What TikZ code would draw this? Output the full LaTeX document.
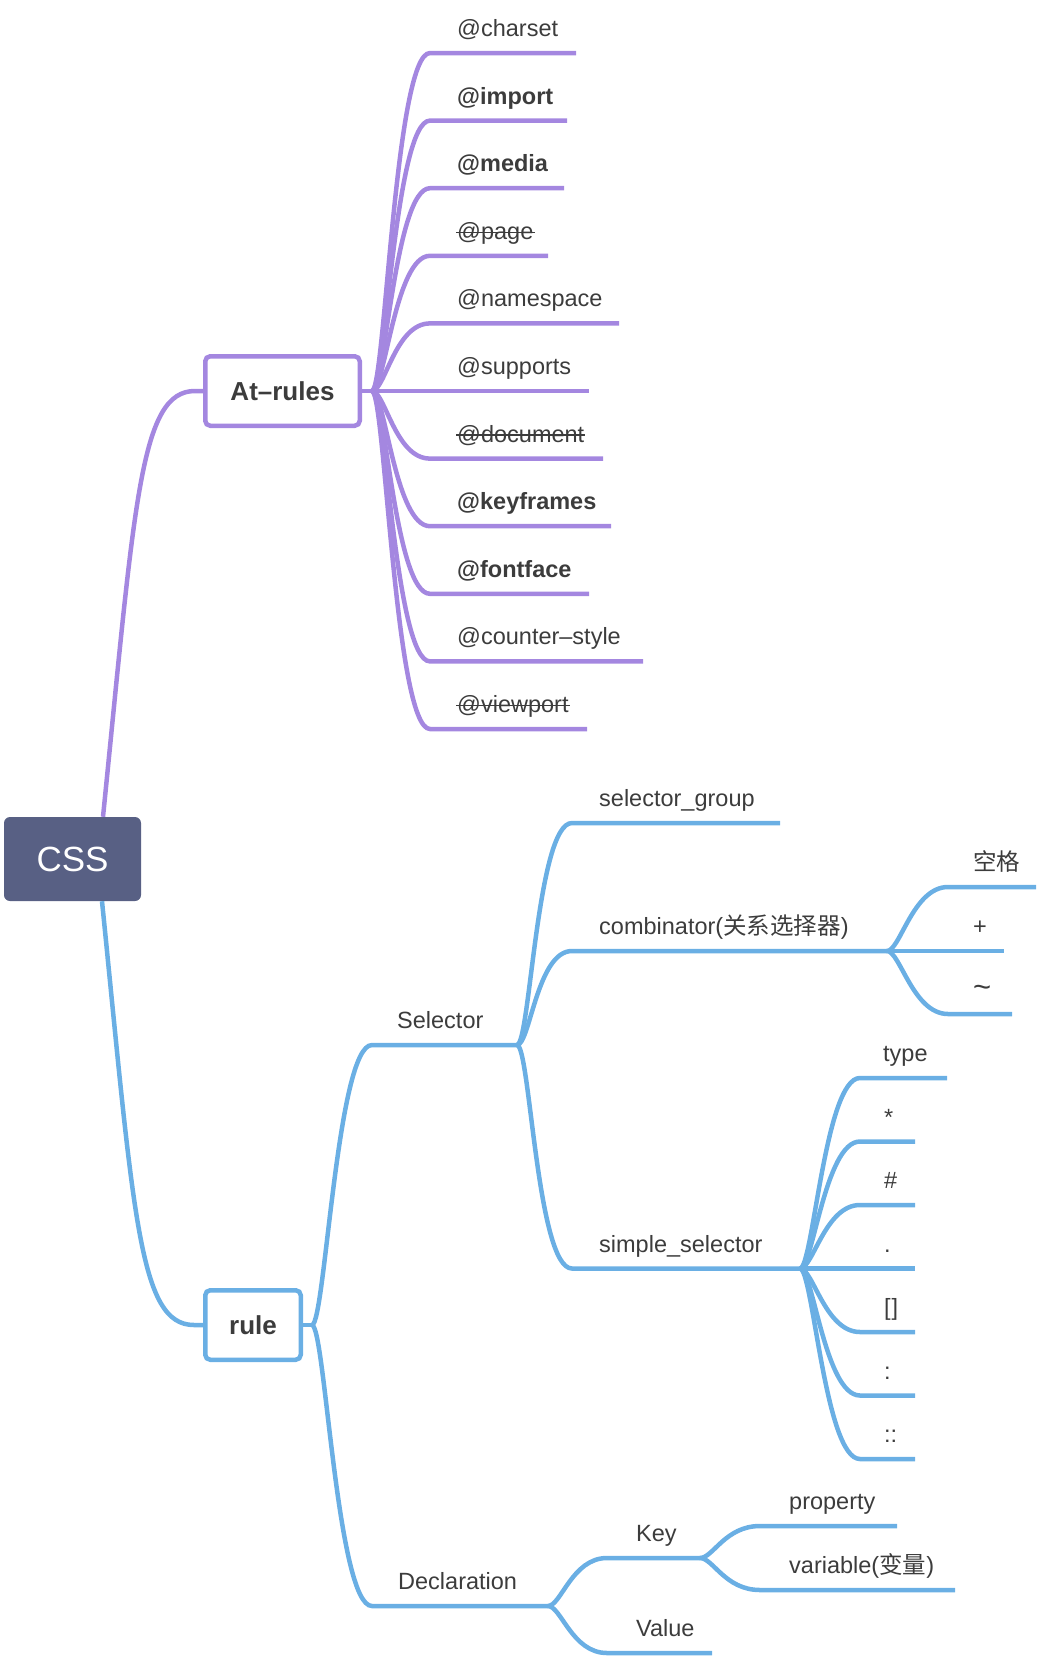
\documentclass[tikz,border=0pt]{standalone}
\usepackage{fontspec}
\setmainfont{Liberation Sans}
\newfontfamily\cjk{Noto Sans CJK SC}
\usetikzlibrary{calc}
\definecolor{pur}{RGB}{164,135,224}
\definecolor{blu}{RGB}{106,175,228}
\definecolor{cssbg}{RGB}{88,96,132}
\definecolor{txt}{RGB}{60,60,60}
\tikzset{
  leaf/.style={anchor=base west, inner sep=0pt, text=txt, font=\fontsize{23.5}{28}\selectfont},
  boldleaf/.style={font=\fontsize{23.5}{28}\selectfont\bfseries},
  pbranch/.style={draw=pur, line width=4.5pt},
  bbranch/.style={draw=blu, line width=4.5pt},
  topbox/.style={rectangle, rounded corners=5pt, fill=white, line width=4.5pt, text=txt, font=\fontsize{26}{30}\selectfont\bfseries, inner sep=0pt},
  cssbox/.style={rectangle, rounded corners=6pt, fill=cssbg, text=white, font=\fontsize{35}{40}\selectfont, minimum width=137pt, minimum height=84pt, inner sep=0pt},
  strikeline/.style={draw=txt, line width=1.6pt},
}
\def\cOne{13}
\def\cTwo{35}
% #1 branch style, #2 parent coordinate, #3 name, #4 x start, #5 y, #6 x end, #7 text x, #8 node options, #9 text
\newcommand\mmkid[9]{%
  \coordinate (#3-s) at (#4,#5);
  \coordinate (#3-e) at (#6,#5);
  \node[leaf,#8] (#3) at (#7,#5-16.5) {#9};
  \draw[#1] (#2) .. controls ($(#2)+(\cOne,0)$) and ($(#3-s)+(-\cTwo,0)$) .. (#3-s) -- (#3-e);
}
\newcommand\mmstrike[1]{%
  \draw[strikeline] ([xshift=-1pt,yshift=7pt]#1.base west) -- ([xshift=1pt,yshift=7pt]#1.base east);
}
\begin{document}
\begin{tikzpicture}[x=1pt,y=-1pt]
\useasboundingbox (0,0) rectangle (1040,1660);

% main nodes
\node[cssbox] (css) at (72.5,859) {CSS};
\node[topbox, draw=pur, minimum width=154.5pt, minimum height=69.5pt] (atrules) at (282.5,391) {At–rules};
\node[topbox, draw=blu, minimum width=95.5pt, minimum height=69.5pt] (rule) at (253,1325) {rule};

% main connectors
\draw[pbranch] ([xshift=30.5pt]css.north) .. controls (135,500) and (140,391) .. (195,391) -- (atrules.west);
\draw[bbranch] ([xshift=29.5pt]css.south) .. controls (134,1218) and (139,1325) .. (194,1325) -- (rule.west);

% stubs
\coordinate (atp) at (372,391);
\draw[pbranch] (atrules.east) -- (atp);
\coordinate (rlp) at (312,1325);
\draw[bbranch] (rule.east) -- (rlp);

% At-rules children
\mmkid{pbranch}{atp}{charset}{430}{53}{576}{457}{}{@charset}
\mmkid{pbranch}{atp}{import}{430}{120.6}{567}{457}{boldleaf}{@import}
\mmkid{pbranch}{atp}{media}{430}{188.2}{564}{457}{boldleaf}{@media}
\mmkid{pbranch}{atp}{page}{430}{255.8}{548}{457}{}{@page}
\mmstrike{page}
\mmkid{pbranch}{atp}{namespace}{430}{323.4}{619}{457}{}{@namespace}
\mmkid{pbranch}{atp}{supports}{430}{391}{589}{457}{}{@supports}
\mmkid{pbranch}{atp}{document}{430}{458.6}{603}{457}{}{@document}
\mmstrike{document}
\mmkid{pbranch}{atp}{keyframes}{430}{526.2}{611}{457}{boldleaf}{@keyframes}
\mmkid{pbranch}{atp}{fontface}{430}{593.8}{589}{457}{boldleaf}{@fontface}
\mmkid{pbranch}{atp}{counter}{430}{661.4}{643}{457}{}{@counter–style}
\mmkid{pbranch}{atp}{viewport}{430}{729}{587}{457}{}{@viewport}
\mmstrike{viewport}

% rule children
\mmkid{bbranch}{rlp}{sel}{372}{1045}{517}{397}{}{Selector}
\mmkid{bbranch}{rlp}{decl}{372}{1606}{548}{398}{}{Declaration}

% Selector children
\mmkid{bbranch}{sel-e}{group}{572}{823}{780}{599}{}{selector\_group}
\mmkid{bbranch}{sel-e}{comb}{572}{951}{887}{599}{}{combinator({\cjk 关系选择器})}
\mmkid{bbranch}{sel-e}{simp}{572}{1268.5}{800}{599}{}{simple\_selector}

% combinator children
\mmkid{bbranch}{comb-e}{space}{948}{887}{1036}{973}{}{{\cjk 空格}}
\mmkid{bbranch}{comb-e}{plus}{948}{951}{1004}{973}{}{+}
\mmkid{bbranch}{comb-e}{tilde}{948}{1014}{1012}{973}{}{{\fontsize{31}{31}\selectfont\textasciitilde}}

% simple_selector children
\mmkid{bbranch}{simp-e}{type}{860}{1078}{947}{883}{}{type}
\mmkid{bbranch}{simp-e}{star}{860}{1141.5}{915}{884}{}{*}
\mmkid{bbranch}{simp-e}{hash}{860}{1205}{915}{884}{}{\#}
\mmkid{bbranch}{simp-e}{dot}{860}{1268.5}{915}{884}{}{.}
\mmkid{bbranch}{simp-e}{attr}{860}{1332}{915}{884}{}{[\kern1pt]}
\mmkid{bbranch}{simp-e}{colon}{860}{1395.5}{915}{884}{}{:}
\mmkid{bbranch}{simp-e}{dcolon}{860}{1459}{915}{884}{}{::}

% Declaration children
\mmkid{bbranch}{decl-e}{key}{607}{1558}{700}{636}{}{Key}
\mmkid{bbranch}{decl-e}{value}{607}{1653}{712}{636}{}{Value}

% Key children
\mmkid{bbranch}{key-e}{prop}{760}{1526}{897}{789}{}{property}
\mmkid{bbranch}{key-e}{var}{760}{1590}{955}{789}{}{variable({\cjk 变量})}
\end{tikzpicture}
\end{document}
